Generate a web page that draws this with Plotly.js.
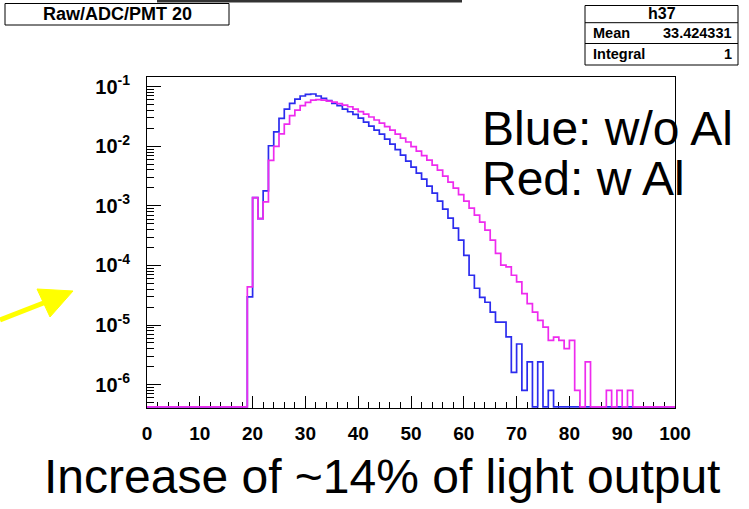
<!DOCTYPE html>
<html><head><meta charset="utf-8">
<script src="https://cdn.plot.ly/plotly-3.0.1.min.js"></script>
<style>html,body{margin:0;padding:0;background:#fff;} #chart{width:749px;height:509px;}</style>
</head><body><div id="chart"></div>
<script>
// ---- data ----
const firstBin = 19;
const nBins = 100;
const blueValues = [
  2.96e-5, 1.38e-3, 6.1e-4, 1.79e-3, 1.02e-2, 1.75e-2, 2.95e-2, 4.22e-2, 5.26e-2, 6.21e-2,
  6.98e-2, 7.45e-2, 7.54e-2, 6.98e-2, 6.38e-2, 5.82e-2, 5.26e-2, 4.80e-2, 4.22e-2, 3.80e-2,
  3.44e-2, 2.98e-2, 2.55e-2, 2.18e-2, 1.87e-2, 1.60e-2, 1.315e-2, 1.09e-2, 8.8e-3, 7.12e-3,
  5.64e-3, 4.47e-3, 3.55e-3, 2.81e-3, 2.14e-3, 1.63e-3, 1.2e-3, 8.8e-4, 6.21e-4, 4.22e-4,
  2.65e-4, 1.48e-4, 6.84e-5, 4.14e-5, 2.92e-5, 2.41e-5, 1.65e-5, 1.12e-5, 1.12e-5, 6.3e-6,
  1.6e-6, 4.8e-6, 8.0e-7, 2.4e-6, 0, 2.4e-6, 0, 8.0e-7
];
const redValues = [
  4.35e-5, 1.38e-3, 6.1e-4, 1.17e-3, 5.8e-3, 9.95e-3, 1.62e-2, 2.36e-2, 3.26e-2, 4.06e-2,
  4.80e-2, 5.47e-2, 5.97e-2, 6.09e-2, 5.97e-2, 5.75e-2, 5.53e-2, 5.22e-2, 4.92e-2, 4.61e-2,
  4.22e-2, 3.83e-2, 3.47e-2, 3.10e-2, 2.76e-2, 2.45e-2, 2.14e-2, 1.87e-2, 1.60e-2, 1.37e-2,
  1.18e-2, 9.9e-3, 8.3e-3, 6.98e-3, 5.86e-3, 4.83e-3, 3.98e-3, 3.16e-3, 2.5e-3, 1.98e-3,
  1.54e-3, 1.2e-3, 9.15e-4, 6.98e-4, 5.32e-4, 3.91e-4, 2.65e-4, 1.6e-4, 1.01e-4, 9.44e-5,
  6.84e-5, 5.28e-5, 3.37e-5, 2.29e-5, 1.65e-5, 1.2e-5, 9.25e-6, 5.53e-6, 6.28e-6, 5.53e-6,
  4.01e-6, 5.53e-6, 8.0e-7, 0, 2.4e-6, 0, 0, 0, 8.0e-7, 0,
  8.0e-7, 0, 8.0e-7
];
const xTickValues = [0, 10, 20, 30, 40, 50, 60, 70, 80, 90, 100];
const yTickValues = [1e-6, 1e-5, 1e-4, 1e-3, 1e-2, 1e-1];
const yTickLabels = ['10<sup>-6</sup>', '10<sup>-5</sup>', '10<sup>-4</sup>', '10<sup>-3</sup>', '10<sup>-2</sup>', '10<sup>-1</sup>'];
const titleText = 'Raw/ADC/PMT 20';
const statsName = 'h37';
const statsRows = [['Mean', '33.424331'], ['Integral', '1']];
const noteLines = ['Blue: w/o Al', 'Red: w Al'];
const captionText = 'Increase of ~14% of light output';

// ---- build ----
const yMinLog = -6.393, yMaxLog = -0.837;
const floorVal = Math.pow(10, yMinLog + 0.02);
function fullHist(vals) {
  const a = new Array(nBins).fill(0);
  vals.forEach((v, i) => { a[firstBin + i] = v; });
  return a;
}
function stepTrace(vals, color) {
  const h = fullHist(vals);
  const x = [], y = [];
  for (let i = 0; i < nBins; i++) { x.push(i); y.push(h[i] > 0 ? h[i] : floorVal); }
  x.push(nBins); y.push(y[y.length - 1]);
  return {x, y, type: 'scatter', mode: 'lines', line: {shape: 'hv', color, width: 1.7}, hoverinfo: 'skip'};
}
// minor tick positions (axis furniture)
const xMinor = [];
for (let v = 0; v <= 100; v += 2) if (v % 10 !== 0) xMinor.push(v);
const yMinor = [];
for (let e = -7; e <= -1; e++) for (let d = 2; d <= 9; d++) yMinor.push(d * Math.pow(10, e));

const L = 147, R = 675, T = 77, B = 408;
const px = x => (x - L) / (R - L);
const py = y => (B - y) / (B - T);
const FONT = 'Liberation Sans, Arial, sans-serif';

function txt(text, x, y, xanchor, size, bold) {
  return {text, x: px(x), y: py(y), xref: 'paper', yref: 'paper', xanchor, yanchor: 'middle',
    showarrow: false, font: {family: FONT, size, color: '#000', weight: bold ? 'bold' : 'normal'}};
}
function rect(x0, y0, x1, y1, extra) {
  return Object.assign({type: 'rect', xref: 'paper', yref: 'paper', x0: px(x0), x1: px(x1), y0: py(y1), y1: py(y0),
    line: {color: '#000', width: 1}, fillcolor: 'rgba(0,0,0,0)'}, extra || {});
}
function hline(x0, x1, y) {
  return {type: 'line', xref: 'paper', yref: 'paper', x0: px(x0), x1: px(x1), y0: py(y), y1: py(y), line: {color: '#000', width: 1}};
}

const annotations = [
  txt(titleText, 117, 14.5, 'center', 18, true),
  txt(statsName, 662, 14, 'center', 16, true),
  txt(statsRows[0][0], 591, 33.3, 'left', 14.5, true),
  txt(statsRows[0][1], 734, 33.3, 'right', 14.5, true),
  txt(statsRows[1][0], 591, 54.3, 'left', 14.5, true),
  txt(statsRows[1][1], 734, 54.3, 'right', 14.5, true),
  txt(noteLines[0], 480, 128, 'left', 48, false),
  txt(noteLines[1], 480, 178, 'left', 48, false),
  txt(captionText, 382, 476, 'center', 48, false)
];

const shapes = [
  rect(157, 0, 462, 2.5, {fillcolor: '#333', line: {width: 0}}),
  rect(5, 3.5, 229, 25),
  rect(585, 5.5, 738, 65),
  hline(585, 738, 22.7),
  hline(585, 738, 43.5),
  {type: 'line', xref: 'paper', yref: 'paper', x0: px(0), y0: py(320), x1: px(46), y1: py(302), line: {color: '#ffff00', width: 5}},
  {type: 'path', xref: 'paper', yref: 'paper',
   path: `M ${px(73)},${py(291)} L ${px(37)},${py(289)} L ${px(50)},${py(317)} Z`,
   fillcolor: '#ffff00', line: {color: '#ffff00', width: 1}}
];

const layout = {
  width: 749, height: 509,
  margin: {l: 147, r: 74, t: 77, b: 101, pad: 0},
  paper_bgcolor: '#fff', plot_bgcolor: '#fff', showlegend: false,
  font: {family: FONT, color: '#000'},
  xaxis: {
    range: [0, 100], tickmode: 'array', tickvals: xTickValues, ticks: 'inside', ticklen: 12, tickwidth: 1, tickcolor: '#000',
    showline: true, linecolor: '#000', linewidth: 1, mirror: true, showgrid: false, zeroline: false,
    tickfont: {family: FONT, size: 19, weight: 'bold', color: '#000'}, ticklabelstandoff: 8,
    minor: {tickmode: 'array', tickvals: xMinor, ticks: 'inside', ticklen: 6, tickwidth: 1, tickcolor: '#000', showgrid: false},
    layer: 'below traces', fixedrange: true
  },
  yaxis: {
    type: 'log', range: [yMinLog, yMaxLog], tickmode: 'array', tickvals: yTickValues, ticktext: yTickLabels,
    ticks: 'inside', ticklen: 14, tickwidth: 1, tickcolor: '#000',
    showline: true, linecolor: '#000', linewidth: 1, mirror: true, showgrid: false, zeroline: false,
    tickfont: {family: FONT, size: 20, weight: 'bold', color: '#000'}, ticklabelstandoff: 12,
    minor: {tickmode: 'array', tickvals: yMinor, ticks: 'inside', ticklen: 7, tickwidth: 1, tickcolor: '#000', showgrid: false},
    layer: 'below traces', fixedrange: true
  },
  annotations, shapes
};

Plotly.newPlot('chart', [stepTrace(blueValues, '#2b2bee'), stepTrace(redValues, '#ee2bee')], layout, {staticPlot: true, displayModeBar: false});
</script>
</body></html>
